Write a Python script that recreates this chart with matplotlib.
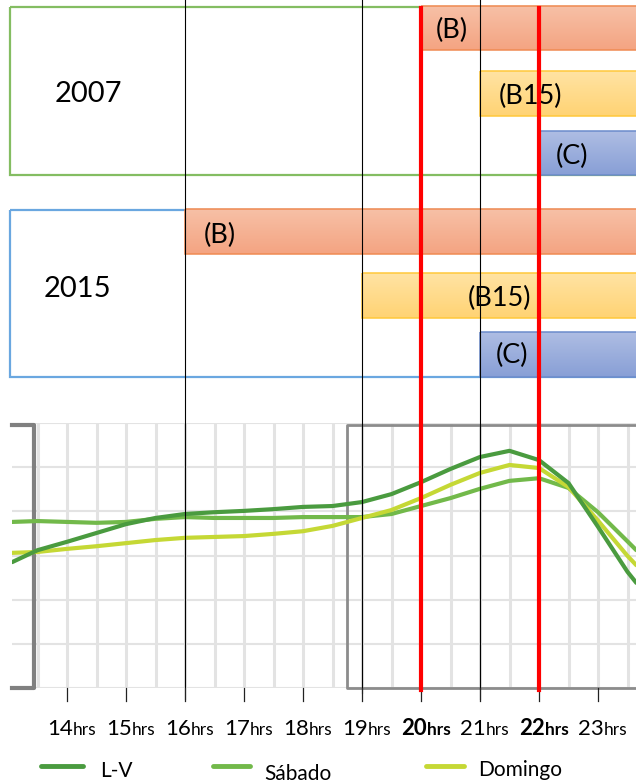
import numpy as np
import matplotlib
matplotlib.use("Agg")
import matplotlib.pyplot as plt
import matplotlib.patches as patches
from matplotlib.colors import LinearSegmentedColormap

plt.rcParams['font.family'] = ['Lato', 'DejaVu Sans']

# demand curves, one grid step per unit
hours = [13.07, 13.5, 14.0, 14.5, 15.0, 15.5, 16.0, 16.5, 17.0, 17.5, 18.0, 18.5,
         19.0, 19.5, 20.0, 20.5, 21.0, 21.5, 22.0, 22.5, 23.0, 23.5, 23.65]
lv = [2.85, 3.12, 3.31, 3.51, 3.71, 3.85, 3.94, 3.98, 4.01, 4.05, 4.10, 4.12,
      4.21, 4.39, 4.66, 4.96, 5.23, 5.37, 5.16, 4.64, 3.65, 2.63, 2.38]
sabado = [3.76, 3.78, 3.76, 3.74, 3.76, 3.83, 3.87, 3.85, 3.85, 3.85, 3.87, 3.87,
          3.87, 3.94, 4.12, 4.30, 4.51, 4.69, 4.75, 4.53, 3.98, 3.32, 3.12]
domingo = [3.06, 3.08, 3.15, 3.21, 3.28, 3.35, 3.40, 3.42, 3.44, 3.49, 3.55, 3.67,
           3.85, 4.03, 4.30, 4.60, 4.87, 5.05, 4.98, 4.55, 3.79, 2.99, 2.78]

series_names = ["L-V", "Sábado", "Domingo"]
series_colors = ["#4A9B3F", "#72B94A", "#C5D835"]

# tariff periods and the hour they start
periods = ["(B)", "(B15)", "(C)"]
start_2007 = [20, 21, 22]
start_2015 = [16, 19, 21]
period_colors = [("#F7C0A6", "#F4A482", "#F08A52"),
                 ("#FFE3A3", "#FFD374", "#FFC83A"),
                 ("#AEBDE3", "#889FD6", "#6B8BCB")]

hour_ticks = list(range(14, 24))
bold_hours = [20, 22]
black_hours = [16, 19, 21]

W, H = 636, 784
fig = plt.figure(figsize=(6.36, 7.84), dpi=100)

X0_PX, PX_PER_H = 67, 59.0   # 14hrs sits at 67 px


def hx(px):
    return 14 + (px - X0_PX) / PX_PER_H


x_lo, x_hi = hx(0), hx(W)

# ---- line chart ----
cax = fig.add_axes([12 / W, (H - 688) / H, (W - 12) / W, 265 / H])
cax.set_xlim(hx(12), x_hi)
cax.set_ylim(0, 6)
cax.set_xticks(np.arange(13.5, 23.6, 0.5))
cax.set_yticks(range(0, 7))
cax.grid(axis='x', color='#E3E3E3', lw=2.2)
cax.grid(axis='y', color='#E3E3E3', lw=1.5)
cax.tick_params(length=0, labelbottom=False, labelleft=False)
for s in cax.spines.values():
    s.set_visible(False)

for vals, c in zip([sabado, domingo, lv], [series_colors[1], series_colors[2], series_colors[0]]):
    cax.plot(hours, vals, color=c, lw=3, solid_capstyle='round', zorder=3)

# gray brackets
bl = hx(34)
cax.plot([hx(12), bl, bl, hx(12)], [5.96, 5.96, 0, 0], color='#808080', lw=3,
         clip_on=False, zorder=2)
br = hx(347)
cax.plot([x_hi + 0.2, br, br, x_hi + 0.2], [5.96, 5.96, 0, 0], color='#8C8C8C', lw=2,
         clip_on=False, zorder=2)

# ---- overlay in pixel rows ----
ax = fig.add_axes([0, 0, 1, 1], zorder=5)
ax.set_facecolor('none')
ax.axis('off')


def gradient_bar(x0, x1, top, bottom, c_top, c_bot, edge):
    cmap = LinearSegmentedColormap.from_list("g", [c_top, c_bot])
    ax.imshow(np.linspace(0, 1, 64).reshape(-1, 1), cmap=cmap, aspect='auto',
              extent=(x0, x1, bottom, top), interpolation='bilinear', zorder=2)
    ax.add_patch(patches.Rectangle((x0, top), x1 - x0, bottom - top, fill=False,
                                   ec=edge, lw=1.1, zorder=3))


# year boxes
ax.add_patch(patches.Rectangle((hx(10), 7), x_hi + 1 - hx(10), 168, fill=False,
                               ec='#84BD62', lw=1.6, zorder=1))
ax.add_patch(patches.Rectangle((hx(10), 210), x_hi + 1 - hx(10), 167, fill=False,
                               ec='#6AA7E0', lw=1.6, zorder=1))
ax.text(hx(88), 94, "2007", fontsize=21, ha='center', va='center')
ax.text(hx(77), 289, "2015", fontsize=21, ha='center', va='center')

rows_2007 = [(6, 50), (71, 116), (131, 175)]
rows_2015 = [(209, 254), (273, 318), (332, 377)]
labels_2007 = [(452, 30), (530, 96), (572, 156)]
labels_2015 = [(220, 235), (500, 298), (512, 355)]

for starts, rows, labs in [(start_2007, rows_2007, labels_2007),
                           (start_2015, rows_2015, labels_2015)]:
    for name, st, (top, bot), (lx, ly), cols in zip(periods, starts, rows, labs, period_colors):
        gradient_bar(st, x_hi + 0.3, top, bot, *cols)
        ax.text(hx(lx), ly, name, fontsize=19.5, ha='center', va='center', zorder=4)

# vertical reference lines
for h in black_hours:
    ax.plot([h, h], [0, 699 if h != 19 else 693], color='black', lw=0.8, zorder=5)
for h in bold_hours:
    ax.plot([h, h], [8, 690], color='#FF0000', lw=3, zorder=6)

# hour ticks and labels
for h in hour_ticks:
    ax.plot([h, h], [688, 701], color='#222222', lw=0.9, zorder=5)
    w = 'bold' if h in bold_hours else 'normal'
    sx = h + 0.1
    ax.text(sx, 735, str(h), fontsize=16, ha='right', va='baseline', weight=w)
    ax.text(sx, 735, "hrs", fontsize=12.5, ha='left', va='baseline', weight=w)

# legend
leg_lines = [(41, 83, 766), (213, 250, 766), (426, 464, 766)]
leg_text = [(100, 771), (264, 774), (478, 770)]
for name, c, (a, b, y), (tx, ty) in zip(series_names, series_colors, leg_lines, leg_text):
    ax.plot([hx(a), hx(b)], [y, y], color=c, lw=3.5, solid_capstyle='round')
    ax.text(hx(tx), ty, name, fontsize=15, ha='left', va='center')

ax.set_xlim(x_lo, x_hi)
ax.set_ylim(H, 0)

fig.savefig("out.png", dpi=100)
